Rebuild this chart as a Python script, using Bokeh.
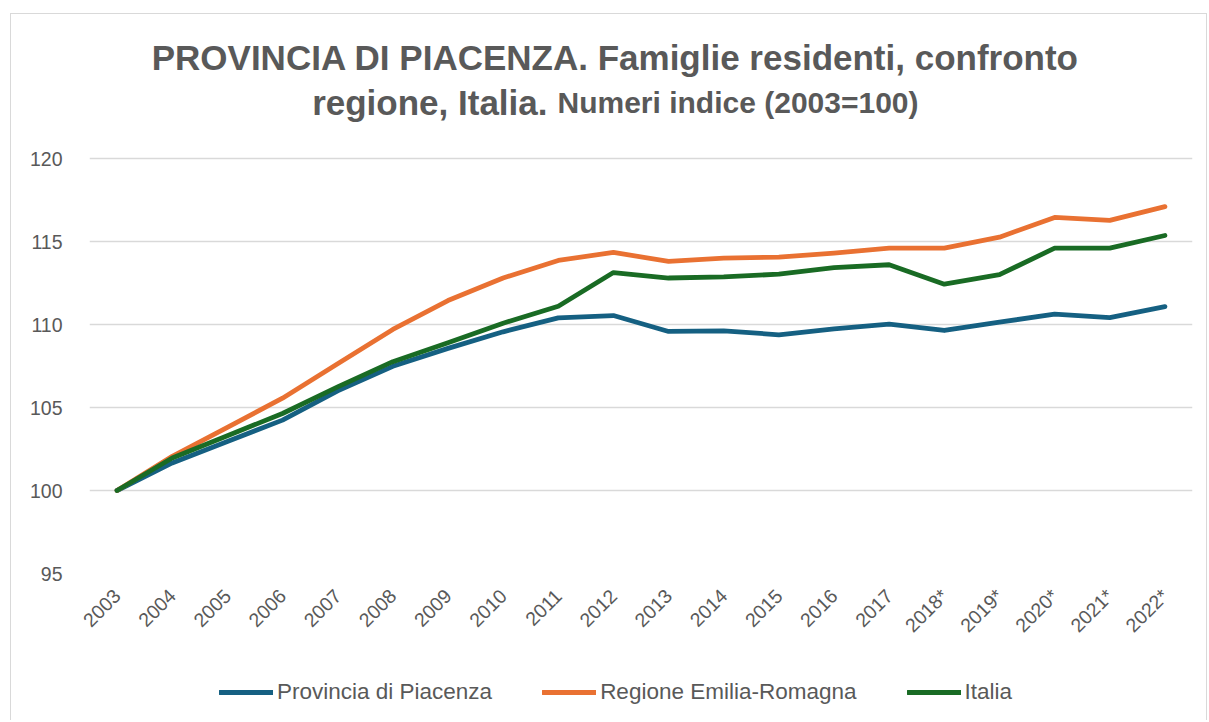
import math
from bokeh.plotting import figure
from bokeh.layouts import column
from bokeh.models import (ColumnDataSource, Label, Legend, LegendItem,
                          FactorRange, FixedTicker, Range1d)
from bokeh.embed import file_html
from bokeh.resources import INLINE

years = ["2003", "2004", "2005", "2006", "2007", "2008", "2009", "2010",
         "2011", "2012", "2013", "2014", "2015", "2016", "2017",
         "2018*", "2019*", "2020*", "2021*", "2022*"]
piacenza = [100, 101.66, 102.95, 104.24, 106.0, 107.48, 108.56, 109.56,
            110.4, 110.54, 109.58, 109.62, 109.38, 109.74, 110.02,
            109.64, 110.14, 110.62, 110.42, 111.08]
emilia = [100, 102.06, 103.8, 105.56, 107.64, 109.7, 111.44, 112.8,
          113.86, 114.34, 113.8, 114.0, 114.06, 114.3, 114.6,
          114.6, 115.26, 116.45, 116.27, 117.1]
italia = [100, 101.96, 103.3, 104.64, 106.24, 107.76, 108.9, 110.08,
          111.1, 113.13, 112.8, 112.87, 113.03, 113.43, 113.6,
          112.43, 113.0, 114.6, 114.6, 115.36]
series_cols = ["piacenza", "emilia", "italia"]
series_names = ["Provincia di Piacenza", "Regione Emilia-Romagna", "Italia"]
series_colors = ["#156082", "#E97132", "#196B24"]
y_ticks = [95, 100, 105, 110, 115, 120]

title_line1 = "PROVINCIA DI PIACENZA. Famiglie residenti, confronto"
title_line2a = "regione, Italia."
title_line2b = "Numeri indice (2003=100)"

TEXT = "#595959"
FONT = "Liberation Sans"
BORDER = "1px solid #d9d9d9"

source = ColumnDataSource(dict(year=years, piacenza=piacenza,
                               emilia=emilia, italia=italia))

# frame extends up to the top of the chart so the title can live inside it;
# grid/ticks only cover 95..120
y_top = 120 + (157 - 14) / 16.6

p = figure(width=1197, height=647,
           x_range=FactorRange(factors=years, range_padding=0),
           y_range=(95, y_top),
           output_backend="svg", toolbar_location=None,
           min_border_left=78, min_border_right=16,
           min_border_top=1, min_border_bottom=88)
p.styles = {"border-top": BORDER, "border-left": BORDER,
            "border-right": BORDER}
p.outline_line_color = None
p.background_fill_color = "white"
p.border_fill_color = "white"

for col, color in zip(series_cols, series_colors):
    p.line("year", col, source=source, line_color=color, line_width=4.8,
           line_cap="round", line_join="round")

p.xgrid.visible = False
p.ygrid.grid_line_color = "#d9d9d9"
p.ygrid.grid_line_width = 1.5

p.yaxis.ticker = FixedTicker(ticks=y_ticks)
for ax in (p.xaxis[0], p.yaxis[0]):
    ax.axis_line_color = None
    ax.major_tick_line_color = None
    ax.minor_tick_line_color = None
    ax.major_label_text_color = TEXT
    ax.major_label_text_font = FONT
    ax.major_label_text_font_size = "19.5px"
p.yaxis.major_label_standoff = 21
p.xaxis.major_label_standoff = 13
p.xaxis.major_label_orientation = math.pi / 4

# Title (mixed sizes) as labels in screen units relative to frame
p.add_layout(Label(x=526, y=516, x_units="screen", y_units="screen",
                   text=title_line1, text_align="center",
                   text_baseline="middle", text_font=FONT,
                   text_font_style="bold", text_font_size="35px",
                   text_color=TEXT))
p.add_layout(Label(x=458, y=471, x_units="screen", y_units="screen",
                   text=title_line2a, text_align="right",
                   text_baseline="middle", text_font=FONT,
                   text_font_style="bold", text_font_size="35px",
                   text_color=TEXT))
p.add_layout(Label(x=468, y=471, x_units="screen", y_units="screen",
                   text=title_line2b, text_align="left",
                   text_baseline="middle", text_font=FONT,
                   text_font_style="bold", text_font_size="30px",
                   text_color=TEXT))

# legend strip below the chart (its frame is aligned with the main frame)
p2 = figure(width=1197, height=60, output_backend="svg",
            toolbar_location=None, x_axis_type=None, y_axis_type=None,
            x_range=FactorRange(factors=years, range_padding=0),
            y_range=Range1d(0, 1),
            min_border_left=0, min_border_right=0, min_border_top=0,
            min_border_bottom=0)
p2.styles = {"border-left": BORDER, "border-right": BORDER}
p2.outline_line_color = None
p2.xgrid.visible = False
p2.ygrid.visible = False
leg_renderers = [p2.line("year", col, source=source, line_color=c,
                         line_width=4.8, line_cap="round")
                 for col, c in zip(series_cols, series_colors)]

legend = Legend(items=[LegendItem(label=n, renderers=[r])
                       for n, r in zip(series_names, leg_renderers)],
                orientation="horizontal", location=(130, 15),
                padding=0, margin=0, spacing=50,
                glyph_width=54, glyph_height=20, label_height=20,
                label_standoff=4,
                label_text_font=FONT, label_text_font_size="22.5px",
                label_text_color=TEXT,
                border_line_color=None, background_fill_alpha=0)
p2.add_layout(legend)

layout = column(p, p2, spacing=0, margin=(13, 0, 0, 10))

open("out.html", "w").write(file_html(layout, INLINE))
